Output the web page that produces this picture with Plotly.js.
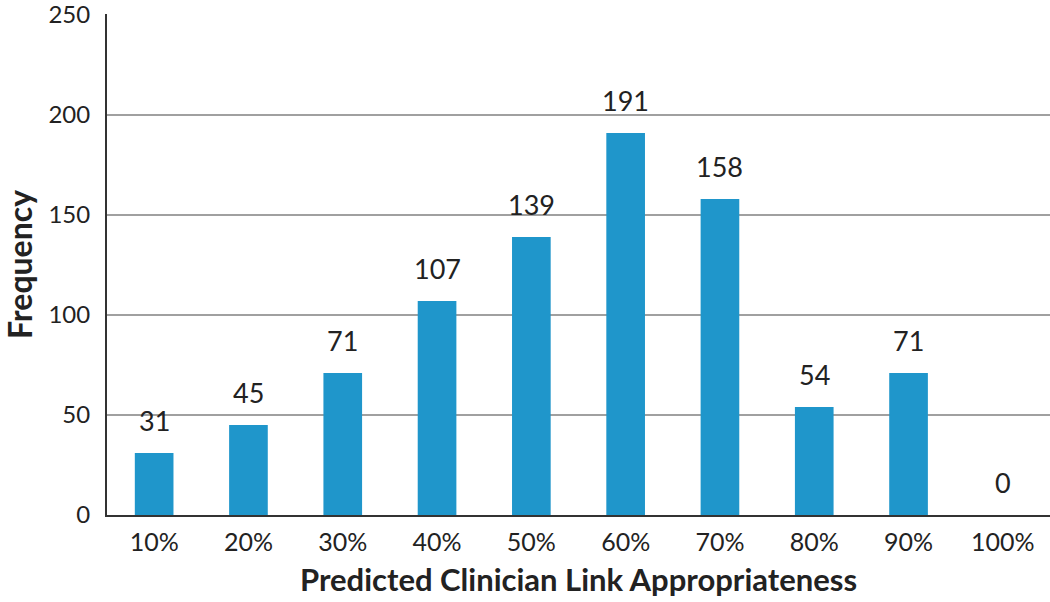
<!DOCTYPE html>
<html><head><meta charset="utf-8">
<script src="https://cdn.plot.ly/plotly-3.0.1.min.js"></script>
<style>html,body{margin:0;padding:0;background:#fff}#chart{width:1050px;height:602px}</style>
</head><body><div id="chart"></div>
<script>
const categories = ["10%","20%","30%","40%","50%","60%","70%","80%","90%","100%"];
const frequency = [31,45,71,107,139,191,158,54,71,0];
const yTicks = [0,50,100,150,200,250];

const font = "Lato, 'Liberation Sans', sans-serif";
const annotations = categories.map((c,i)=>({
  x:c, y:frequency[i], xref:'x', yref:'y', text:String(frequency[i]),
  showarrow:false, yanchor:'bottom', yshift:14,
  font:{family:font,size:27,color:'#222'}
}));

Plotly.newPlot('chart',[{
  type:'bar', x:categories, y:frequency,
  marker:{color:'#1f96cb'}, hoverinfo:'none'
}],{
  width:1050,height:602,
  margin:{l:107,r:0,t:14,b:87},
  paper_bgcolor:'#fff',plot_bgcolor:'#fff',
  bargap:0.59,
  showlegend:false,
  font:{family:font,color:'#222'},
  xaxis:{type:'category',showline:true,linecolor:'#333',linewidth:2,
    ticks:'outside',ticklen:4,tickcolor:'rgba(0,0,0,0)',
    tickfont:{size:25,family:font,color:'#222'},
    title:{text:'<b>Predicted Clinician Link Appropriateness</b>',font:{size:31,family:font,color:'#222'},standoff:14}},
  yaxis:{range:[0,250.5],tickvals:yTicks,showline:true,linecolor:'#333',linewidth:2,
    showgrid:true,gridcolor:'#a0a0a0',gridwidth:1.5,zeroline:false,
    ticks:'outside',ticklen:10,tickcolor:'rgba(0,0,0,0)',ticklabeloverflow:'allow',
    tickfont:{size:24,family:font,color:'#222'},
    title:{text:'<b>Frequency</b>',font:{size:32,family:font,color:'#222'},standoff:10}},
  annotations:annotations
},{displayModeBar:false,staticPlot:true});
</script></body></html>
